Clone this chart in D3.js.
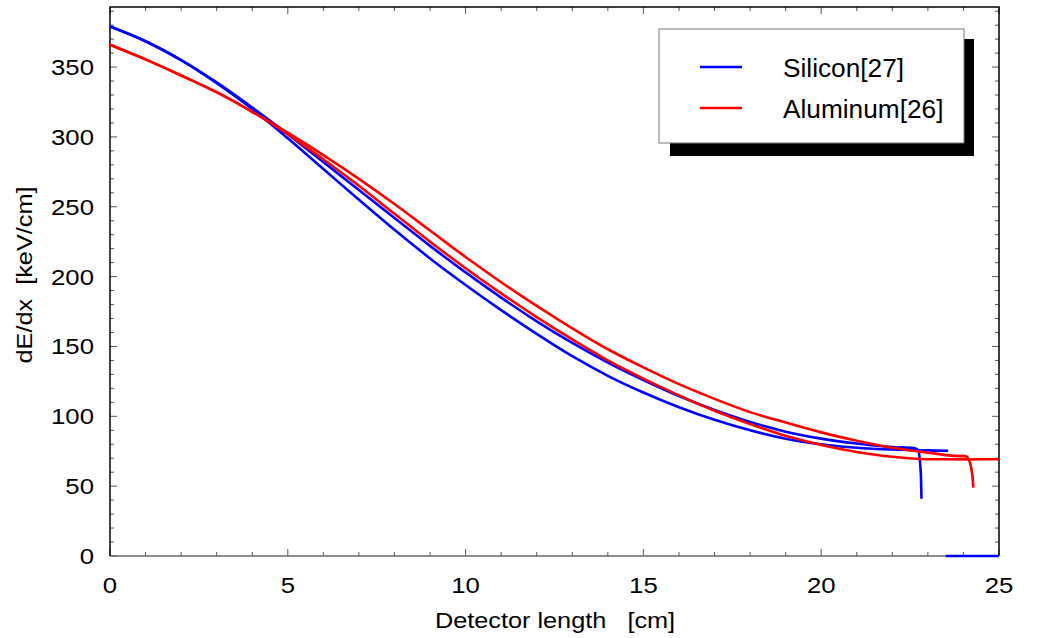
<!DOCTYPE html>
<html>
<head>
<meta charset="utf-8">
<script src="https://cdn.jsdelivr.net/npm/d3@7/dist/d3.min.js"></script>
<style>
  body { margin: 0; background: #fff; }
  svg text { font-family: 'Liberation Sans', Arial, Helvetica, sans-serif; fill: #000; }
</style>
</head>
<body>
<svg id="chart" width="1037" height="638"></svg>
<script>
// Silicon[27] - two traces
const siX1 = [0, 1, 2, 3, 4, 5, 6, 7, 8, 9, 10, 11, 12, 13, 14, 15, 16, 17, 18, 19, 20, 21, 22, 23, 23.57];
const siY1 = [379, 368.5, 355, 338.5, 320, 299, 277, 255, 233.5, 213, 194, 176, 159, 143, 129, 117, 106.5, 97.5, 90, 84, 80, 77.5, 76.2, 75.6, 75.3];
const siX2 = [0, 1, 2, 3, 4, 5, 6, 7, 8, 9, 10, 11, 12, 13, 14, 15, 16, 17, 18, 19, 20, 21, 22, 22.6, 22.72, 22.8, 22.82];
const siY2 = [379, 368.5, 355, 339, 321, 302, 282, 262, 242, 222, 203, 185, 168, 152.5, 138.5, 126, 114.5, 104.5, 96, 89, 84, 80.5, 78, 77.3, 76, 60, 41];
const siX3 = [23.5, 25];
const siY3 = [0, 0];
// Aluminum[26] - two traces
const alX1 = [0, 1, 2, 3, 4, 5, 6, 7, 8, 9, 10, 11, 12, 13, 14, 15, 16, 17, 18, 19, 20, 21, 22, 23, 23.9, 24.05, 24.15, 24.25, 24.28];
const alY1 = [366, 355.5, 344, 332, 318, 303, 287, 270, 252, 233, 214, 196, 179, 163, 148, 135, 123, 112.5, 103, 95.5, 88.5, 82.5, 77.5, 74, 71.5, 71.5, 69, 58, 49];
const alX2 = [0, 1, 2, 3, 4, 5, 6, 7, 8, 9, 10, 11, 12, 13, 14, 15, 16, 17, 18, 19, 20, 21, 22, 23, 24, 25];
const alY2 = [366, 355.5, 344, 332, 318, 302, 284, 265, 245, 225, 206, 188, 171, 155, 140, 127, 115, 104, 94.5, 86, 79.5, 74.5, 71, 69.3, 69.2, 69.3];

const xTicks = [0, 5, 10, 15, 20, 25];
const yTicks = [0, 50, 100, 150, 200, 250, 300, 350];
const legendNames = ['Silicon[27]', 'Aluminum[26]'];
const legendColors = ['#0000ff', '#ff0000'];

const svg = d3.select('#chart');
const mLeft = 110, mRight = 999, mTop = 7, mBottom = 556;

const x = d3.scaleLinear().domain([0, 25]).range([mLeft, mRight]);
const y = d3.scaleLinear().domain([0, 393]).range([mBottom, mTop]);

// ticks, inside, mirrored on all sides
const tk = svg.append('g').attr('stroke', '#555').attr('stroke-width', 1);
d3.range(0, 26).forEach(v => {
  const len = v % 5 === 0 ? 7 : 4;
  tk.append('line').attr('x1', x(v)).attr('x2', x(v)).attr('y1', mBottom).attr('y2', mBottom - len);
  tk.append('line').attr('x1', x(v)).attr('x2', x(v)).attr('y1', mTop).attr('y2', mTop + len);
});
d3.range(0, 391, 10).forEach(v => {
  const len = v % 50 === 0 ? 7 : 4;
  tk.append('line').attr('y1', y(v)).attr('y2', y(v)).attr('x1', mLeft).attr('x2', mLeft + len);
  tk.append('line').attr('y1', y(v)).attr('y2', y(v)).attr('x1', mRight).attr('x2', mRight - len);
});

// frame
svg.append('line').attr('x1', mLeft).attr('x2', mRight).attr('y1', mBottom).attr('y2', mBottom)
  .attr('stroke', '#666').attr('stroke-width', 1.5);
svg.append('polyline')
  .attr('points', `${mLeft},${mBottom} ${mLeft},${mTop} ${mRight},${mTop} ${mRight},${mBottom}`)
  .attr('fill', 'none').attr('stroke', '#000').attr('stroke-width', 1.5);

// tick labels
svg.append('g').selectAll('text').data(xTicks).join('text')
  .attr('transform', d => `translate(${x(d)},593) scale(1.12,1)`)
  .attr('text-anchor', 'middle').attr('font-size', 23).text(d => d);
svg.append('g').selectAll('text').data(yTicks).join('text')
  .attr('transform', d => `translate(94,${y(d) + 8}) scale(1.12,1)`)
  .attr('text-anchor', 'end').attr('font-size', 23).text(d => d);

// axis titles
svg.append('text').attr('transform', 'translate(555,628) scale(1.15,1)')
  .attr('text-anchor', 'middle').attr('font-size', 22).attr('xml:space', 'preserve')
  .text('Detector length   [cm]');
svg.append('text').attr('transform', 'translate(32,275) rotate(-90) scale(1.15,1)')
  .attr('text-anchor', 'middle').attr('font-size', 22).attr('xml:space', 'preserve')
  .text('dE/dx  [keV/cm]');

// curves
const line = d3.line().x(d => x(d[0])).y(d => y(d[1])).curve(d3.curveMonotoneX);
const series = [
  { xs: siX1, ys: siY1, c: legendColors[0] },
  { xs: siX2, ys: siY2, c: legendColors[0] },
  { xs: siX3, ys: siY3, c: legendColors[0] },
  { xs: alX1, ys: alY1, c: legendColors[1] },
  { xs: alX2, ys: alY2, c: legendColors[1] }
];
const plot = svg.append('g');
series.forEach(s => {
  plot.append('path')
    .datum(d3.zip(s.xs, s.ys))
    .attr('d', line)
    .attr('fill', 'none').attr('stroke', s.c).attr('stroke-width', 2.6)
    .attr('stroke-linejoin', 'round');
});

// legend with drop shadow
const lg = svg.append('g');
lg.append('rect').attr('x', 670).attr('y', 39).attr('width', 304).attr('height', 117).attr('fill', '#000');
lg.append('rect').attr('x', 659).attr('y', 29).attr('width', 305).attr('height', 114)
  .attr('fill', '#fff').attr('stroke', '#777').attr('stroke-width', 1);
legendNames.forEach((n, i) => {
  const ly = 67 + i * 41;
  lg.append('line').attr('x1', 700).attr('x2', 742).attr('y1', ly).attr('y2', ly)
    .attr('stroke', legendColors[i]).attr('stroke-width', 2.6);
  lg.append('text').attr('transform', `translate(783,${ly + 10}) scale(1.05,1)`)
    .attr('font-size', 25).text(n);
});
</script>
</body>
</html>
